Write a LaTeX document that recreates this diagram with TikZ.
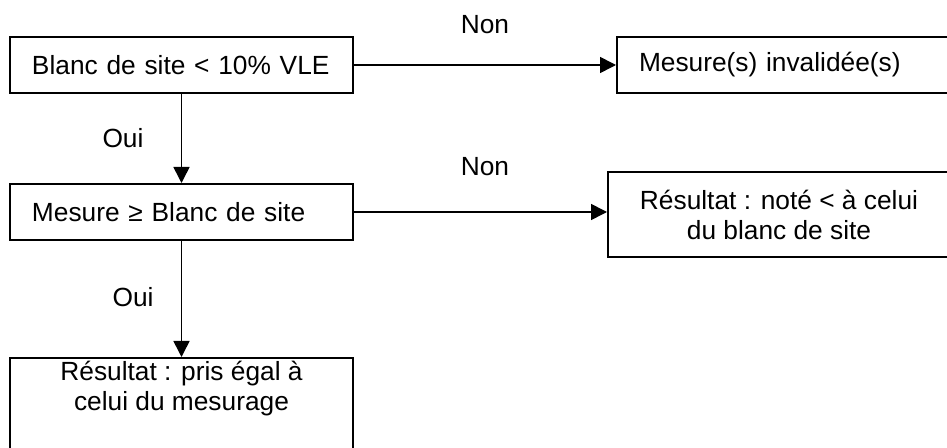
\documentclass[tikz,border=0pt]{standalone}
\usepackage{fontspec}
\setmainfont{Liberation Sans}
\usetikzlibrary{arrows.meta}

\tikzset{
  txt/.style={font=\fontsize{13.15}{15}\selectfont},
  box/.style={shape=rectangle, draw=black, line width=1pt, fill=white, txt},
  leftbox/.style={box, align=left, inner xsep=11pt, inner ysep=0pt,
    text width=#1, minimum height=28pt},
  flow/.style={-{Triangle[length=8pt,width=8pt]}, line width=0.8pt},
  answer/.style={txt, inner sep=0pt}
}

\begin{document}
\begin{tikzpicture}[x=0.5pt, y=-0.5pt]
\useasboundingbox (0,0) rectangle (947,448);
\clip (0,0) rectangle (947,448);
        % blanc de site
\node[leftbox=149.5pt] at (181.5, 65)
(blanc) {Blanc de site < 10\% VLE};

\node[leftbox=144.5pt] at (783.5, 65)
(inval) {Mesure(s) invalidée(s)};

\node[leftbox=149.5pt] at (181.5, 212)
(mesure) {Mesure ≥ Blanc de site};

\node[box, align=center, minimum width=171pt, minimum height=42.5pt] at (779, 214.5)
(note) {Résultat : noté < à celui\\du blanc de site};

\node[box, anchor=north, minimum width=171.5pt, minimum height=60pt,
  label={[txt, anchor=north, align=center, inner sep=0pt, yshift=-2pt]north:Résultat : pris égal à\\celui du mesurage}]
  at (181.5, 357)
(egal) {};

\node[answer] at (485, 25) (non1) {Non};
\node[answer] at (485, 167) (non2) {Non};
\node[answer] at (123, 138) (oui1) {Oui};
\node[answer] at (133, 297) (oui2) {Oui};

\draw[flow] (blanc.east) -- (inval.west);
\draw[flow] (blanc.south) -- (mesure.north);
\draw[flow] (mesure.east) -- (mesure.east -| note.west);
\draw[flow] (mesure.south) -- (egal.north);
      \end{tikzpicture}
\end{document}
